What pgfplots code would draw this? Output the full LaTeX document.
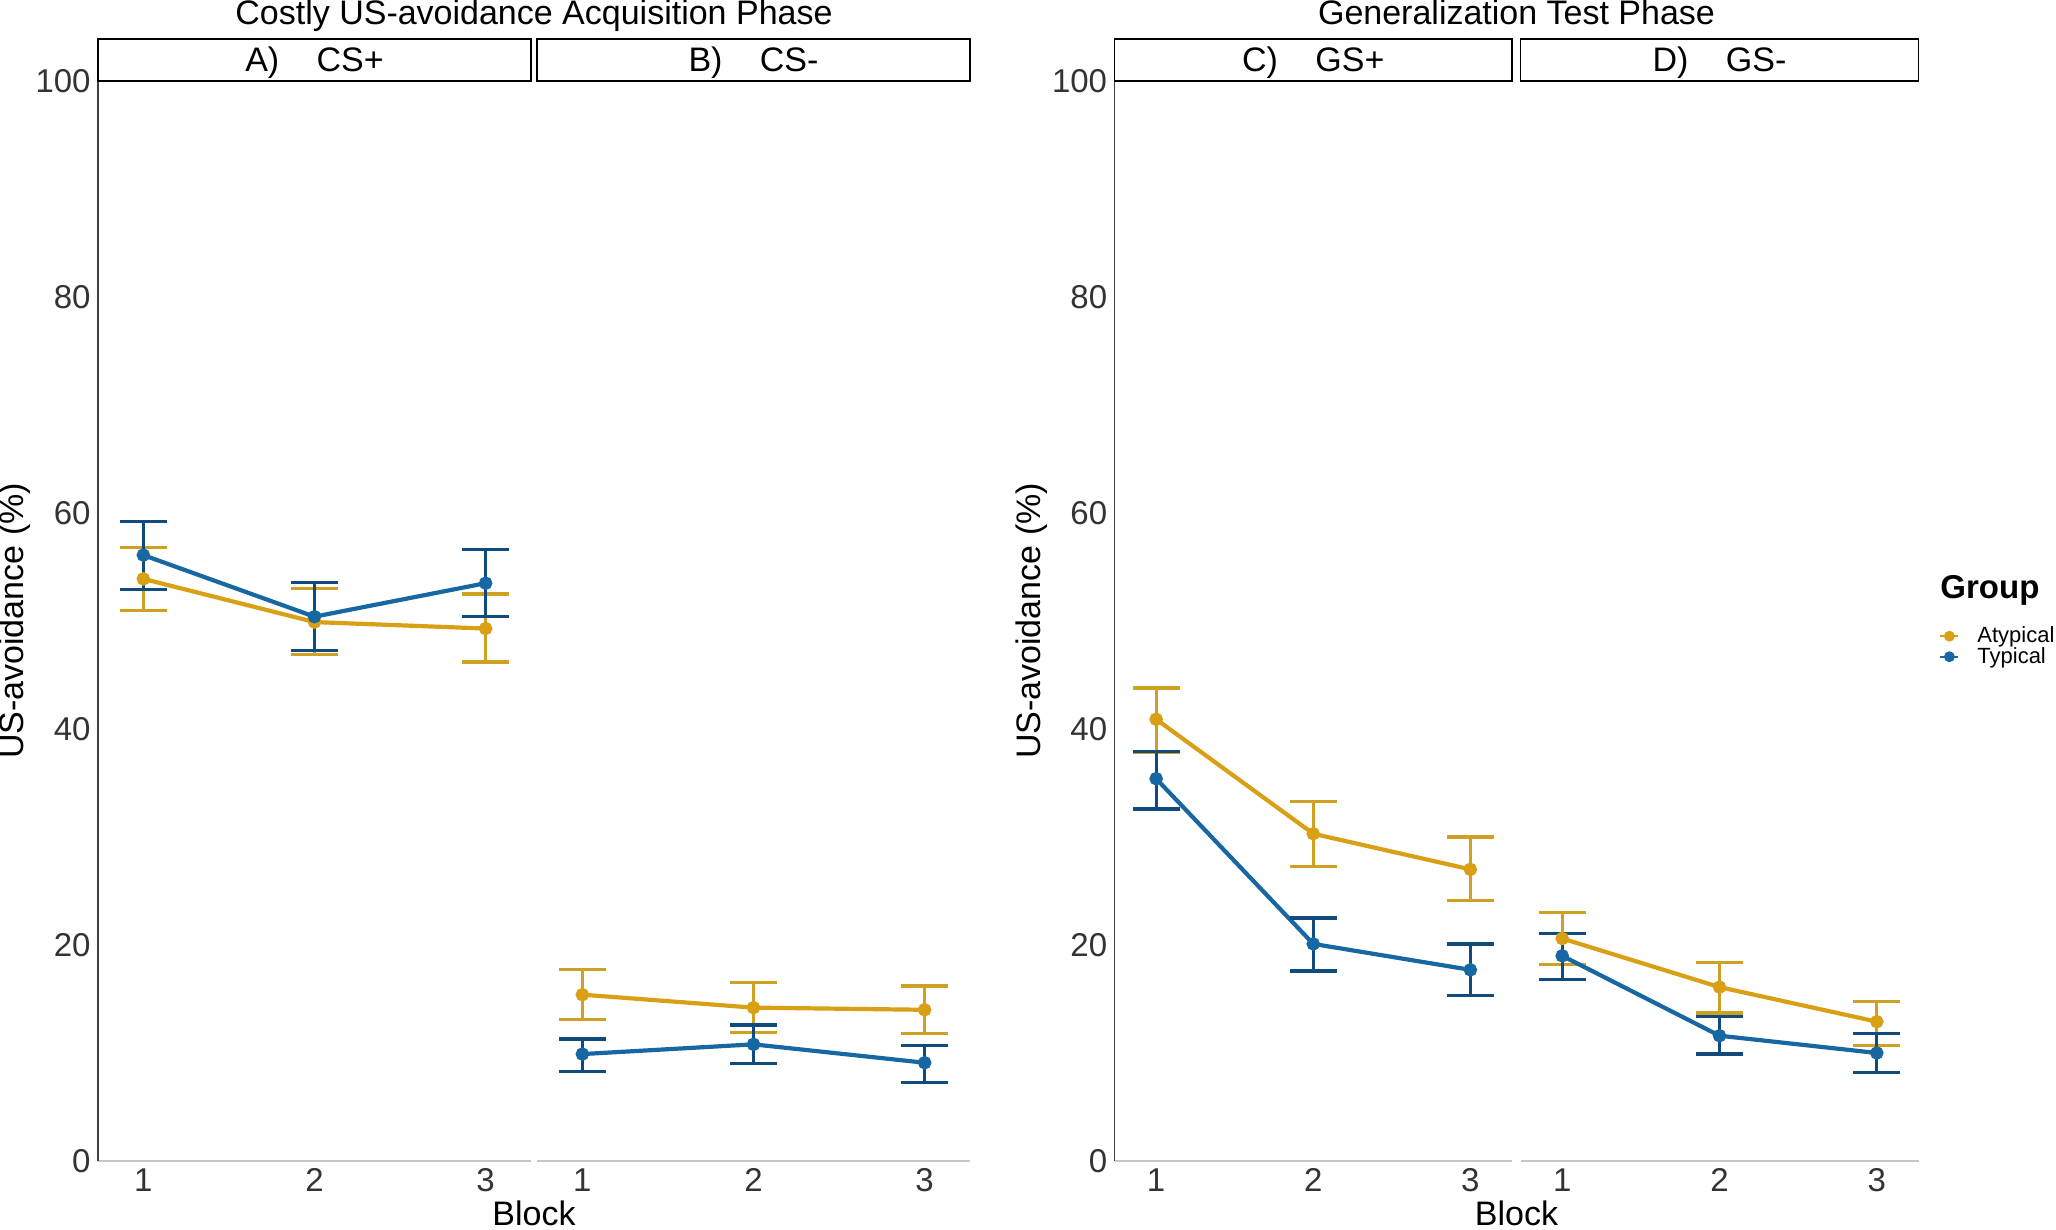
\documentclass[border=0pt]{standalone}
\usepackage{fontspec}
\setmainfont{Liberation Sans}
\usepackage{pgfplots}
\pgfplotsset{compat=1.18}
\definecolor{atyp}{HTML}{D9A016}
\definecolor{atypErr}{HTML}{CFA022}
\definecolor{typ}{HTML}{1767A3}
\definecolor{typErr}{HTML}{0F4C7D}
\newcommand{\ticksize}{\fontsize{16.5}{18}\selectfont}
\newcommand{\labsize}{\fontsize{17}{19}\selectfont}
\begin{document}
\begin{tikzpicture}
\useasboundingbox (0pt,0pt) rectangle (1028pt,615pt);
\pgfplotsset{
  panel/.style={
    scale only axis, width=216.5pt, height=540pt, anchor=south west,
    xmin=0.735, xmax=3.265, ymin=0, ymax=100,
    xtick={1,2,3}, ytick={0,20,40,60,80,100},
    major tick length=0pt,
    axis x line=bottom, axis y line=left,
    x axis line style={-, draw=black!22, line width=0.8pt},
    y axis line style={-, draw=black!75, line width=0.6pt},
    tick label style={font=\ticksize, text=black!80},
    /pgf/number format/assume math mode=true,
    xticklabel style={inner sep=0pt, anchor=north, yshift=-3.5pt},
    yticklabel style={inner sep=0pt, anchor=east, xshift=-3.5pt},
    label style={font=\labsize},
    clip=false,
  },
  noy/.style={yticklabels={}, y axis line style={draw=none}},
  atypplot/.style={color=atyp, line width=2.1pt, mark=*, mark size=2.3pt, mark options={solid, fill=atyp},
    error bars/.cd, y dir=both, y explicit,
    error bar style={color=atypErr, line width=1.4pt},
    error mark options={rotate=90, color=atypErr, mark size=11.75pt, line width=1.6pt},
    /pgfplots/.cd},
  typplot/.style={color=typ, line width=2.1pt, mark=*, mark size=2.3pt, mark options={solid, fill=typ},
    error bars/.cd, y dir=both, y explicit,
    error bar style={color=typErr, line width=1.4pt},
    error mark options={rotate=90, color=typErr, mark size=11.75pt, line width=1.6pt},
    /pgfplots/.cd},
}
% Panel A
\begin{axis}[panel, at={(49pt,34.5pt)},
  ylabel={US-avoidance (\%)},
  every axis y label/.style={at={(axis description cs:-0.1917,0.5)}, rotate=90, anchor=center, font=\labsize}]
\addplot[atypplot] coordinates {(1,53.9) += (0,2.9) -= (0,2.9) (2,49.9) += (0,3.1) -= (0,3.0) (3,49.3) += (0,3.2) -= (0,3.1)};
\addplot[typplot] coordinates {(1,56.1) += (0,3.1) -= (0,3.2) (2,50.4) += (0,3.2) -= (0,3.1) (3,53.5) += (0,3.1) -= (0,3.1)};
\end{axis}
% Panel B
\begin{axis}[panel, noy, at={(268.5pt,34.5pt)}]
\addplot[atypplot] coordinates {(1,15.4) += (0,2.3) -= (0,2.3) (2,14.2) += (0,2.3) -= (0,2.3) (3,14.0) += (0,2.2) -= (0,2.2)};
\addplot[typplot] coordinates {(1,9.9) += (0,1.4) -= (0,1.6) (2,10.8) += (0,1.8) -= (0,1.8) (3,9.1) += (0,1.6) -= (0,1.8)};
\end{axis}
% Panel C
\begin{axis}[panel, width=198.75pt, at={(557.25pt,34.5pt)},
  ylabel={US-avoidance (\%)},
  every axis y label/.style={at={(axis description cs:-0.2075,0.5)}, rotate=90, anchor=center, font=\labsize}]
\addplot[atypplot] coordinates {(1,40.9) += (0,2.9) -= (0,3.1) (2,30.3) += (0,3.0) -= (0,3.0) (3,27.0) += (0,3.0) -= (0,2.9)};
\addplot[typplot] coordinates {(1,35.4) += (0,2.5) -= (0,2.8) (2,20.1) += (0,2.4) -= (0,2.5) (3,17.7) += (0,2.4) -= (0,2.4)};
\end{axis}
% Panel D
\begin{axis}[panel, noy, width=199pt, at={(760.25pt,34.5pt)},
  legend image code/.code={\draw[mark repeat=2, mark phase=2, #1] plot coordinates {(0pt,0pt) (4.5pt,0pt) (9pt,0pt)};},
  legend style={at={(axis description cs:1.0515,0.4764)}, anchor=west, draw=none, fill=none,
    inner sep=0pt, row sep=0.8pt, column sep=9pt, font=\fontsize{11}{12}\selectfont,
    nodes={inner sep=0pt}},
  legend cell align=left]
\addplot[forget plot, atypplot] coordinates {(1,20.6) += (0,2.4) -= (0,2.4) (2,16.1) += (0,2.3) -= (0,2.4) (3,12.9) += (0,1.9) -= (0,2.2)};
\addplot[forget plot, typplot] coordinates {(1,19.0) += (0,2.1) -= (0,2.2) (2,11.6) += (0,1.8) -= (0,1.7) (3,10.0) += (0,1.8) -= (0,1.8)};
\addlegendimage{color=atyp, line width=1pt, mark=*, mark size=2.2pt, mark options={solid, fill=atyp}}
\addlegendentry{Atypical}
\addlegendimage{color=typ, line width=1pt, mark=*, mark size=2.2pt, mark options={solid, fill=typ}}
\addlegendentry{Typical}
\end{axis}
% Strips
\foreach \xa/\xb/\lab in {49/265.5/{A)\hspace{1.1em}CS+}, 268.5/485/{B)\hspace{1.1em}CS-}, 557.25/756/{C)\hspace{1.1em}GS+}, 760.25/959.25/{D)\hspace{1.1em}GS-}}{
  \draw[black, line width=0.7pt] (\xa pt,574.5pt) rectangle (\xb pt,595.5pt);
  \draw[black, line width=1pt] (\xa pt,574.5pt) -- (\xb pt,574.5pt);
  \node[anchor=base, inner sep=0pt, font=\labsize] at ({(\xa+\xb)/2*1pt},579.2pt) {\lab};
}
% Titles
\node[anchor=base, inner sep=0pt, font=\labsize] at (267pt,602.5pt) {Costly US-avoidance Acquisition Phase};
\node[anchor=base, inner sep=0pt, font=\labsize] at (758.25pt,602.5pt) {Generalization Test Phase};
% x labels
\node[anchor=base, inner sep=0pt, font=\labsize] at (267pt,2pt) {Block};
\node[anchor=base, inner sep=0pt, font=\labsize] at (758.25pt,2pt) {Block};
% legend title
\node[anchor=base west, inner sep=0pt, font=\fontsize{16.5}{18}\selectfont\bfseries] at (970pt,315.5pt) {Group};
\end{tikzpicture}
\end{document}
